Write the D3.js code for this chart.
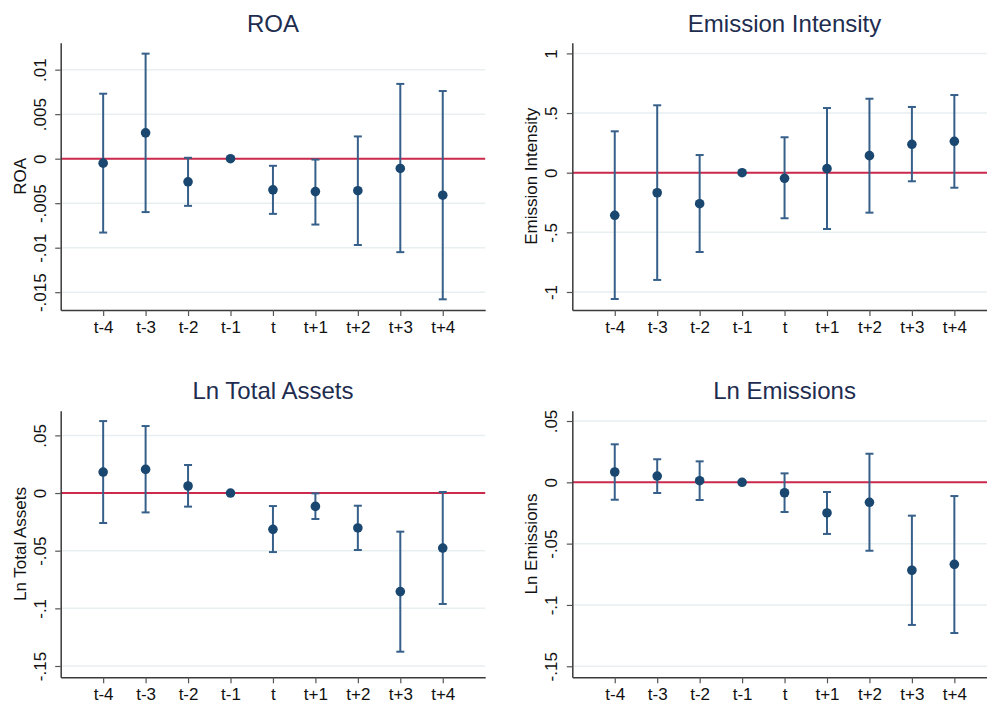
<!DOCTYPE html>
<html>
<head>
<meta charset="utf-8">
<title>Event study panels</title>
<script src="https://cdn.jsdelivr.net/npm/d3@7"></script>
<style>
  html, body { margin: 0; padding: 0; background: #fff; }
  svg { display: block; font-family: "Liberation Sans", Arial, sans-serif; }
</style>
</head>
<body>
<div id="chart"></div>
<script>
// event-time categories
var periods = ["t-4", "t-3", "t-2", "t-1", "t", "t+1", "t+2", "t+3", "t+4"];

// ROA
var roaCoef = [-0.0005, 0.0029, -0.0026, 0, -0.0035, -0.0037, -0.0036, -0.0011, -0.0041];
var roaLo   = [-0.0083, -0.0060, -0.0053, 0, -0.0062, -0.0074, -0.0097, -0.0105, -0.0158];
var roaHi   = [0.0073, 0.0118, 0.0001, 0, -0.0008, -0.0001, 0.0025, 0.0084, 0.0076];
var roaTicks = [0.01, 0.005, 0, -0.005, -0.01, -0.015];
var roaTickLabels = [".01", ".005", "0", "-.005", "-.01", "-.015"];

// Emission intensity
var eiCoef = [-0.357, -0.168, -0.260, 0, -0.047, 0.034, 0.143, 0.238, 0.263];
var eiLo   = [-1.059, -0.899, -0.665, 0, -0.382, -0.472, -0.335, -0.072, -0.126];
var eiHi   = [0.347, 0.565, 0.148, 0, 0.297, 0.542, 0.620, 0.551, 0.651];
var eiTicks = [1, 0.5, 0, -0.5, -1];
var eiTickLabels = ["1", ".5", "0", "-.5", "-1"];

// Ln total assets
var taCoef = [0.0182, 0.0205, 0.0061, 0, -0.0315, -0.0116, -0.0303, -0.0855, -0.0477];
var taLo   = [-0.0260, -0.0168, -0.0118, 0, -0.0512, -0.0225, -0.0494, -0.1376, -0.0962];
var taHi   = [0.0624, 0.0581, 0.0243, 0, -0.0113, -0.0003, -0.0110, -0.0335, 0.0009];
var taTicks = [0.05, 0, -0.05, -0.1, -0.15];
var taTickLabels = [".05", "0", "-.05", "-.1", "-.15"];

// Ln emissions
var emCoef = [0.0084, 0.0051, 0.0013, 0, -0.0085, -0.0250, -0.0163, -0.0717, -0.0669];
var emLo   = [-0.0142, -0.0087, -0.0144, 0, -0.0242, -0.0421, -0.0558, -0.1163, -0.1229];
var emHi   = [0.0310, 0.0188, 0.0171, 0, 0.0073, -0.0079, 0.0233, -0.0272, -0.0112];
var emTicks = [0.05, 0, -0.05, -0.1, -0.15];
var emTickLabels = [".05", "0", "-.05", "-.1", "-.15"];

var W = 987, H = 706;
var svg = d3.select("#chart").append("svg")
  .attr("width", W)
  .attr("height", H);
svg.append("rect").attr("width", W).attr("height", H).attr("fill", "#fff");

// plot areas (pixel boxes) and y ranges
var panels = [
  {title: "ROA", ytitle: "ROA", coef: roaCoef, lo: roaLo, hi: roaHi, ticks: roaTicks, labels: roaTickLabels,
   left: 60.7, right: 485.2, top: 42.7, bottom: 310, ymin: -0.0170, ymax: 0.01303, titleY: 31.7},
  {title: "Emission Intensity", ytitle: "Emission Intensity", coef: eiCoef, lo: eiLo, hi: eiHi, ticks: eiTicks, labels: eiTickLabels,
   left: 572.3, right: 996.8, top: 42.7, bottom: 310, ymin: -1.151, ymax: 1.0897, titleY: 31.7},
  {title: "Ln Total Assets", ytitle: "Ln Total Assets", coef: taCoef, lo: taLo, hi: taHi, ticks: taTicks, labels: taTickLabels,
   left: 60.7, right: 485.2, top: 410.7, bottom: 677.3, ymin: -0.1598, ymax: 0.0714, titleY: 399.3},
  {title: "Ln Emissions", ytitle: "Ln Emissions", coef: emCoef, lo: emLo, hi: emHi, ticks: emTicks, labels: emTickLabels,
   left: 572.3, right: 996.8, top: 410.7, bottom: 677.3, ymin: -0.1590, ymax: 0.0584, titleY: 399.3}
];

var navy = "#1a476f";
var barColor = "#36608a";
var zeroColor = "#cc2a4c";
var gridColor = "#e7eff1";
var axisColor = "#3a3a3a";

panels.forEach(function(p) {
  var x = d3.scaleLinear().domain([-1, 9]).range([p.left, p.right]);
  var y = d3.scaleLinear().domain([p.ymin, p.ymax]).range([p.bottom, p.top]);
  var g = svg.append("g");

  // grid lines
  g.selectAll(".grid")
    .data(p.ticks)
    .enter()
    .append("line")
    .attr("x1", p.left).attr("x2", p.right)
    .attr("y1", function(d) { return y(d); })
    .attr("y2", function(d) { return y(d); })
    .attr("stroke", gridColor)
    .attr("stroke-width", 1.5);

  // zero reference line
  g.append("line")
    .attr("x1", p.left).attr("x2", p.right)
    .attr("y1", y(0)).attr("y2", y(0))
    .attr("stroke", zeroColor)
    .attr("stroke-width", 2);

  // y axis
  var yAxis = g.append("g")
    .attr("transform", "translate(" + p.left + ",0)")
    .call(d3.axisLeft(y)
      .tickValues(p.ticks)
      .tickFormat(function(d, i) { return p.labels[i]; })
      .tickSize(5.5)
      .tickSizeOuter(0));
  yAxis.select(".domain").attr("stroke", axisColor).attr("stroke-width", 1.5);
  yAxis.selectAll(".tick line").attr("stroke", "#555").attr("stroke-width", 1.2);
  yAxis.selectAll(".tick text")
    .attr("x", null).attr("dy", null)
    .attr("transform", "translate(-15,0) rotate(-90)")
    .attr("text-anchor", "middle")
    .attr("fill", "#111")
    .style("font-size", "17px");

  // x axis
  var idx = d3.range(periods.length);
  var xAxis = g.append("g")
    .attr("transform", "translate(0," + p.bottom + ")")
    .call(d3.axisBottom(x)
      .tickValues(idx)
      .tickFormat(function(d) { return periods[d]; })
      .tickSize(6)
      .tickPadding(5)
      .tickSizeOuter(0));
  xAxis.select(".domain").attr("stroke", axisColor).attr("stroke-width", 1.5);
  xAxis.selectAll(".tick line").attr("stroke", "#555").attr("stroke-width", 1.2);
  xAxis.selectAll(".tick text")
    .attr("fill", "#111")
    .style("font-size", "17px");

  // confidence intervals
  var ci = idx.filter(function(i) { return p.lo[i] !== p.hi[i]; });
  var bars = g.selectAll(".ci")
    .data(ci)
    .enter()
    .append("g")
    .attr("stroke", barColor)
    .attr("stroke-width", 2);
  bars.append("line")
    .attr("x1", function(i) { return x(i); })
    .attr("x2", function(i) { return x(i); })
    .attr("y1", function(i) { return y(p.lo[i]); })
    .attr("y2", function(i) { return y(p.hi[i]); });
  bars.append("line")
    .attr("x1", function(i) { return x(i) - 4; })
    .attr("x2", function(i) { return x(i) + 4; })
    .attr("y1", function(i) { return y(p.lo[i]); })
    .attr("y2", function(i) { return y(p.lo[i]); });
  bars.append("line")
    .attr("x1", function(i) { return x(i) - 4; })
    .attr("x2", function(i) { return x(i) + 4; })
    .attr("y1", function(i) { return y(p.hi[i]); })
    .attr("y2", function(i) { return y(p.hi[i]); });

  // point estimates
  g.selectAll(".pt")
    .data(idx)
    .enter()
    .append("circle")
    .attr("cx", function(i) { return x(i); })
    .attr("cy", function(i) { return y(p.coef[i]); })
    .attr("r", 4.8)
    .attr("fill", navy);

  // titles
  g.append("text")
    .attr("x", (p.left + p.right) / 2)
    .attr("y", p.titleY)
    .attr("text-anchor", "middle")
    .attr("fill", "#1e2d4f")
    .style("font-size", "24px")
    .text(p.title);

  g.append("text")
    .attr("transform", "translate(" + (p.left - 35) + "," + ((p.top + p.bottom) / 2) + ") rotate(-90)")
    .attr("text-anchor", "middle")
    .attr("fill", "#111")
    .style("font-size", "17px")
    .text(p.ytitle);
});
</script>
</body>
</html>
